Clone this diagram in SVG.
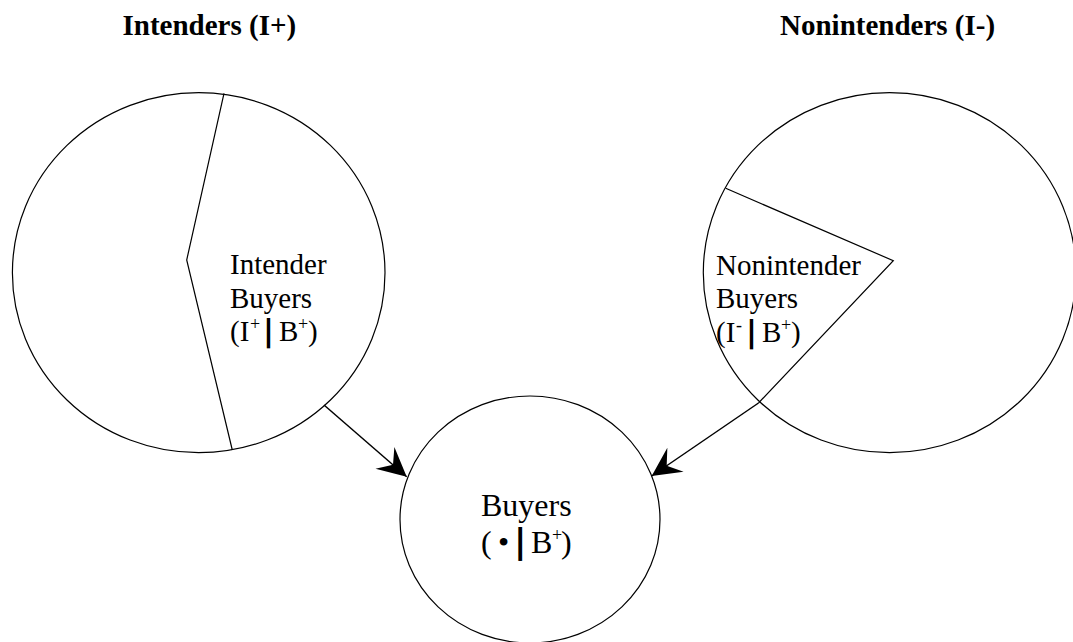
<svg xmlns="http://www.w3.org/2000/svg" width="1073" height="642" viewBox="0 0 1073 642">
<style>
.shape{fill:none;stroke:#000;stroke-width:1.2}
.conn{fill:none;stroke:#000;stroke-width:1.5}
.t{font-family:"Liberation Serif","Tinos","Times New Roman","DejaVu Serif",serif;fill:#000}
.title{font-size:29px;font-weight:bold}
.lbl{font-size:29px}
.big{font-size:32px}
.sup{font-size:18px}
.bar{font-family:"DejaVu Sans",sans-serif;font-weight:bold}
</style>
<defs>
<marker id="arr" markerUnits="userSpaceOnUse" markerWidth="32" markerHeight="32" viewBox="-28 -15 30 30" refX="0" refY="0" orient="auto">
<path d="M0,0 L-27,-13.5 L-17,0 L-27,13.5 Z" fill="#000"/>
</marker>
</defs>
<rect width="1073" height="642" fill="#fff"/>
<g id="title-intenders"><text class="t title" x="122.5" y="35">Intenders (I+)</text></g>
<g id="title-nonintenders"><text class="t title" x="780" y="35">Nonintenders (I-)</text></g>
<g id="intenders">
<ellipse class="shape" cx="198.7" cy="272.7" rx="186.3" ry="180"/>
<polyline class="shape" points="224,93.3 186.7,260 232.3,450"/>
<text class="t lbl" x="230" y="274">Intender</text>
<text class="t lbl" x="230" y="307.5">Buyers</text>
<text class="t lbl" y="340.5"><tspan x="230">(I</tspan><tspan class="sup" x="250" dy="-11">+</tspan><tspan class="bar" x="263" dy="11" font-size="30">|</tspan><tspan x="279">B</tspan><tspan class="sup" x="298" dy="-11">+</tspan><tspan x="308" dy="11">)</tspan></text>
</g>
<g id="nonintenders">
<ellipse class="shape" cx="889.6" cy="272.7" rx="186.3" ry="180"/>
<polyline class="shape" points="725.7,188.3 893.3,260.7 758.5,403"/>
<text class="t lbl" x="716" y="275">Nonintender</text>
<text class="t lbl" x="716" y="308.3">Buyers</text>
<text class="t lbl" y="341.5"><tspan x="716">(I</tspan><tspan class="sup" x="736" dy="-11">-</tspan><tspan class="bar" x="746" dy="11" font-size="30">|</tspan><tspan x="762">B</tspan><tspan class="sup" x="781" dy="-11">+</tspan><tspan x="791" dy="11">)</tspan></text>
</g>
<g id="buyers">
<ellipse class="shape" cx="530" cy="519.5" rx="130" ry="123.5"/>
<text class="t big" x="481" y="516">Buyers</text>
<text class="t big" y="553"><tspan x="481">(</tspan><tspan x="498">•</tspan><tspan class="bar" x="514" font-size="34">|</tspan><tspan x="531">B</tspan><tspan class="sup" x="552" dy="-12">+</tspan><tspan x="561" dy="12">)</tspan></text>
</g>
<g id="connectors">
<line class="conn" x1="324" y1="405" x2="406.7" y2="476.7" marker-end="url(#arr)"/>
<line class="conn" x1="758.5" y1="403" x2="651.7" y2="476" marker-end="url(#arr)"/>
</g>
</svg>
